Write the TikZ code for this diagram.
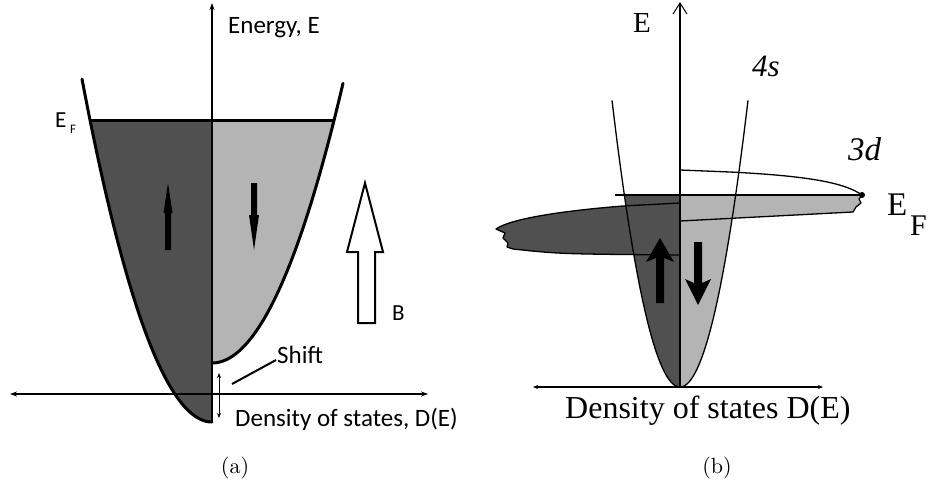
\documentclass[tikz,border=0pt]{standalone}
\usepackage{fontspec}
\usetikzlibrary{arrows.meta}
\newfontfamily\calfont{Carlito}
\newfontfamily\timesfont{Liberation Serif}
\newfontfamily\lmten{lmroman10-regular.otf}
\definecolor{darkfill}{HTML}{505050}
\definecolor{lightfill}{HTML}{B4B4B4}
\tikzset{
  txt/.style={inner sep=0pt, anchor=base west},
  sansA/.style={txt, font=\calfont\fontsize{25}{30}\selectfont},
  serifB/.style={txt, font=\timesfont\fontsize{32}{38}\selectfont},
  capt/.style={inner sep=0pt, anchor=base, font=\lmten\fontsize{22}{26}\selectfont},
  thickcurve/.style={line width=3pt, line join=round, line cap=round},
  thincurve/.style={line width=1.3pt, line join=round},
  axisA/.style={line width=1.1pt},
  tipA/.tip={Stealth[length=7pt,width=5pt]},
  tipS/.tip={Stealth[length=5pt,width=4pt]},
}
\begin{document}
\begin{tikzpicture}[x=1pt,y=-1pt]
\useasboundingbox (0,0) rectangle (931,485);

% ================= (a) =================
\fill[darkfill] (212,120) -- plot[domain=122.1:0,samples=60] ({212-\x},{422-0.0203*\x*\x}) -- cycle;
\fill[lightfill] (212,120) -- plot[domain=122.1:0,samples=60] ({212+\x},{363-0.0163*\x*\x}) -- cycle;
\draw[thickcurve] plot[domain=130:0,samples=70] ({212-\x},{422-0.0203*\x*\x});
\draw[thickcurve] plot[domain=0:131,samples=70] ({212+\x},{363-0.0163*\x*\x});
\draw[line width=3pt] (90,120) -- (334,120);
% axes
\draw[axisA,-{tipA}] (212,422) -- (212,3);
\draw[axisA,{tipA}-{tipA}] (10,394) -- (428,394);
% spin arrows
\fill (165,250) -- (165,213) -- (163.5,213) -- (168,183) -- (172.5,213) -- (171,213) -- (171,250) -- cycle;
\fill (251,183) -- (251,215) -- (249,215) -- (254,250) -- (259,215) -- (257,215) -- (257,183) -- cycle;
% B field arrow
\draw[line width=2pt, fill=white, line join=miter] (358,323) -- (358,252) -- (347,252) -- (365,183) -- (383,252) -- (375,252) -- (375,323) -- cycle;
% shift
\draw[line width=1pt,{tipS}-{tipS}] (219,373) -- (219,418);
\draw[line width=2pt] (232,384) -- (276,360);
% labels
\node[sansA] (energy) at (228,33) {Energy, E};
\node[txt, font=\calfont\fontsize{23}{27}\selectfont] (efa) at (55,127) {E};
\node[txt, font=\calfont\fontsize{13}{15}\selectfont] (efasub) at (70,133) {F};
\node[txt, font=\calfont\fontsize{23}{27}\selectfont] (blab) at (392,320) {B};
\node[sansA] (shift) at (277,363) {Shift};
\node[sansA] (dosa) at (235,426) {Density of states, D(E)};
\node[capt] (capa) at (235,473) {(a)};

% ================= (b) =================
% 3d bands fills
\fill[darkfill] (680,203) -- (623,206) .. controls (560,211) and (510,219) .. (496,229) -- (505,233) -- (503,238) -- (508,243) -- (507,247) -- (513,249) .. controls (560,254) .. (680,255) -- cycle;
\fill[lightfill] (680,195) -- (862,195) -- (859,199) -- (861,203) -- (856,207) -- (853,212) -- (680,221) -- cycle;
% 4s parabola fills
\fill[darkfill] (680,195) -- plot[domain=55.65:0,samples=40] ({680-\x},{387-0.062*\x*\x}) -- cycle;
\fill[lightfill] (680,195) -- plot[domain=55.65:0,samples=40] ({680+\x},{387-0.062*\x*\x}) -- cycle;
% band outlines
\draw[thincurve] (680,203) -- (623,206) .. controls (560,211) and (510,219) .. (496,229) -- (505,233) -- (503,238) -- (508,243) -- (507,247) -- (513,249) .. controls (560,254) .. (680,255);
\draw[thincurve] (862,195) -- (859,199) -- (861,203) -- (856,207) -- (853,212) -- (680,221);
\draw[thincurve] (680,170) -- (730,172) .. controls (810,176) and (845,183) .. (862,195);
\fill (862,195) circle[radius=3pt];
% EF line
\draw[line width=1.6pt] (615,195) -- (862,195);
% 4s parabola
\draw[thincurve] plot[domain=-68:68,samples=80] ({680+\x},{387-0.062*\x*\x});
% axes
\draw[line width=1.3pt] (680,387) -- (680,3);
\draw[line width=1pt] (673,14) -- (680,3) -- (687,14);
\draw[line width=1.3pt,{tipS}-{tipS}] (533,387) -- (823,387);
% spin arrows
\fill (656,303) -- (656,258) -- (646,262) -- (660,238) -- (674,262) -- (664,258) -- (664,303) -- cycle;
\fill (694,242) -- (694,283) -- (685,279) -- (698,305) -- (711,279) -- (702,283) -- (702,242) -- cycle;
% labels
\node[txt, font=\timesfont\fontsize{29}{34}\selectfont] (eb) at (633,32) {E};
\node[txt, font=\timesfont\itshape\fontsize{31}{36}\selectfont] (fours) at (752,76) {4s};
\node[txt, font=\timesfont\itshape\fontsize{33}{38}\selectfont] (threed) at (848,160) {3d};
\node[txt, font=\timesfont\fontsize{33}{38}\selectfont] (efb) at (887,215) {E};
\node[txt, font=\timesfont\fontsize{30}{36}\selectfont] (efbsub) at (910,235) {F};
\node[serifB] (dosb) at (565,418) {Density of states D(E)};
\node[capt] (capb) at (717,473) {(b)};
\end{tikzpicture}
\end{document}
